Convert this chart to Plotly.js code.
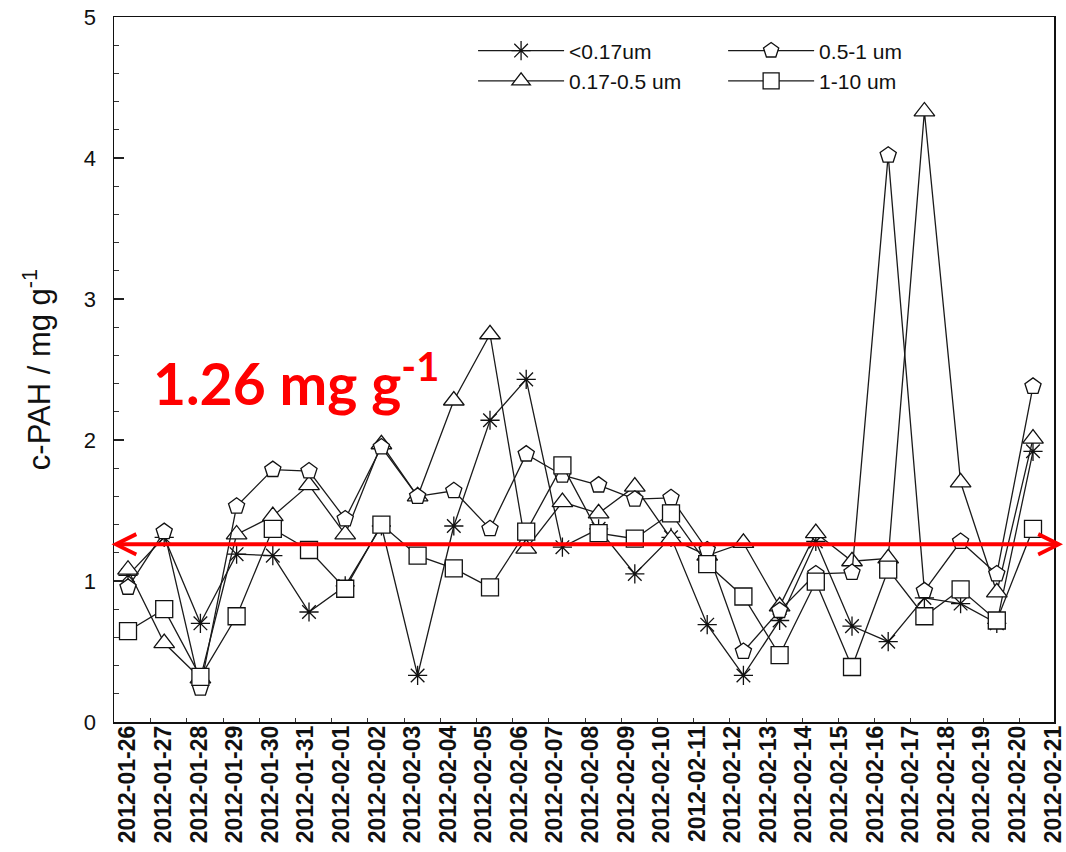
<!DOCTYPE html>
<html><head><meta charset="utf-8">
<script src="https://cdn.plot.ly/plotly-3.0.1.min.js"></script>
<style>html,body{margin:0;padding:0;background:#fff}#chart{width:1066px;height:852px}</style>
</head><body><div id="chart"></div>
<script>
// ---- data ----
const dateLabels = ['2012-01-26','2012-01-27','2012-01-28','2012-01-29','2012-01-30','2012-01-31',
  '2012-02-01','2012-02-02','2012-02-03','2012-02-04','2012-02-05','2012-02-06','2012-02-07',
  '2012-02-08','2012-02-09','2012-02-10','2012-02-11','2012-02-12','2012-02-13','2012-02-14',
  '2012-02-15','2012-02-16','2012-02-17','2012-02-18','2012-02-19','2012-02-20','2012-02-21'];
const sampleDates = dateLabels.slice(0, 26);
const seriesNames = ['&lt;0.17um', '0.17-0.5 um', '0.5-1 um', '1-10 um'];
const below017 = [1.04,1.31,0.70,1.19,1.18,0.78,0.965,1.39,0.33,1.39,2.14,2.43,1.24,1.37,1.05,1.31,0.69,0.33,0.72,1.28,0.68,0.57,0.88,0.84,0.70,1.92];
const r017to05 = [1.08,0.56,0.31,1.33,1.46,1.68,1.33,1.97,1.60,2.28,2.75,1.23,1.56,1.48,1.67,1.30,1.18,1.27,0.82,1.34,1.14,1.16,4.33,1.70,0.92,2.01];
const r05to1 = [0.955,1.35,0.24,1.53,1.79,1.78,1.44,1.95,1.60,1.64,1.37,1.90,1.75,1.68,1.58,1.59,1.22,0.50,0.79,1.05,1.06,4.02,0.93,1.28,1.05,2.38];
const r1to10 = [0.645,0.80,0.32,0.75,1.37,1.22,0.945,1.40,1.18,1.09,0.955,1.35,1.82,1.34,1.30,1.48,1.12,0.89,0.475,0.995,0.39,1.08,0.75,0.94,0.72,1.37];
const referenceLevel = 1.26;
const referenceText = '1.26 mg g<sup>-1</sup>';

// ---- layout helpers ----
const xIdx = sampleDates.map((d, i) => i);
const labelStep = 35.58 / 36.2;
const labelPos = dateLabels.map((d, i) => i * labelStep);
const tickOffset = 0.627;
const minorPos = [];
for (let j = 0; j < 25; j++) minorPos.push(j + tickOffset);
const weeklyPos = [1, 8, 15, 22].map(j => j + tickOffset);
const xRange = [-0.387, 25.58];

const lineStyle = {color: '#1a1a1a', width: 1.3};
function mk(symbol, size, fill) {
  return {symbol: symbol, size: size, color: fill, line: {color: '#111', width: 1.3}};
}
const traces = [
  {x: xIdx, y: below017, name: seriesNames[0], mode: 'lines+markers', line: lineStyle, marker: mk('asterisk-open', 16, '#111'), legend: 'legend'},
  {x: xIdx, y: r017to05, name: seriesNames[1], mode: 'lines+markers', line: lineStyle, marker: mk('triangle-up', 18, '#ffffff'), legend: 'legend'},
  {x: xIdx, y: r05to1, name: seriesNames[2], mode: 'lines+markers', line: lineStyle, marker: mk('pentagon', 17, '#ffffff'), legend: 'legend2'},
  {x: xIdx, y: r1to10, name: seriesNames[3], mode: 'lines+markers', line: lineStyle, marker: mk('square', 17, '#ffffff'), legend: 'legend2'}
];

const axFont = {family: 'Liberation Sans, Arial, sans-serif', color: '#111'};
const legendCommon = {
  bgcolor: 'rgba(0,0,0,0)', borderwidth: 0, itemwidth: 86, yanchor: 'top', xanchor: 'left',
  font: {family: 'Liberation Sans, Arial, sans-serif', size: 21, color: '#111'}, tracegroupgap: 0
};

const layout = {
  width: 1066, height: 852,
  margin: {l: 114, r: 12, t: 17, b: 130},
  paper_bgcolor: '#fff', plot_bgcolor: '#fff',
  showlegend: true,
  legend: Object.assign({x: 0.382, y: 0.981}, legendCommon),
  legend2: Object.assign({x: 0.648, y: 0.981}, legendCommon),
  xaxis: {
    range: xRange, tickmode: 'array', tickvals: labelPos, ticktext: dateLabels,
    ticks: '', tickangle: -90, ticklabelstandoff: -7,
    tickfont: Object.assign({size: 23, weight: 'bold'}, axFont),
    showline: true, linecolor: '#111', linewidth: 1.5, mirror: true,
    showgrid: false, zeroline: false,
    minor: {tickmode: 'array', tickvals: minorPos, ticks: 'inside', ticklen: 4, tickwidth: 1, tickcolor: '#333', showgrid: false}
  },
  xaxis2: {
    overlaying: 'x', anchor: 'y', side: 'bottom', range: xRange,
    tickmode: 'array', tickvals: weeklyPos, ticks: 'inside', ticklen: 8, tickwidth: 1.2, tickcolor: '#222',
    showticklabels: false, showline: false, showgrid: false, zeroline: false
  },
  yaxis: {
    range: [0, 5], tickmode: 'linear', tick0: 0, dtick: 1,
    ticks: 'inside', ticklen: 10, tickwidth: 1.2, tickcolor: '#222',
    tickfont: Object.assign({size: 22}, axFont), ticklabelstandoff: 12,
    showline: true, linecolor: '#111', linewidth: 1.5, mirror: true,
    showgrid: false, zeroline: false,
    minor: {dtick: 0.2, ticks: 'inside', ticklen: 5, tickwidth: 1, tickcolor: '#333', showgrid: false},
    title: {text: 'c-PAH / mg g<sup>-1</sup>', font: Object.assign({size: 31}, axFont), standoff: 24}
  },
  annotations: [
    {xref: 'paper', yref: 'y', x: (1063 - 114) / 940, y: referenceLevel, ax: -953, ay: 0,
     text: '', showarrow: true, arrowside: 'end+start', arrowhead: 5, startarrowhead: 5,
     arrowsize: 1, startarrowsize: 1, arrowwidth: 4, arrowcolor: '#ff0000', standoff: 0, startstandoff: 0},
    {xref: 'paper', yref: 'y', x: 0.0395, y: 2.43, xanchor: 'left', yanchor: 'middle', showarrow: false,
     text: referenceText, font: {family: 'Lato, Open Sans, sans-serif', size: 57, color: '#ff0000', weight: 'bold'}}
  ]
};

Plotly.newPlot('chart', traces, layout, {displayModeBar: false, staticPlot: true});
</script>
</body></html>
